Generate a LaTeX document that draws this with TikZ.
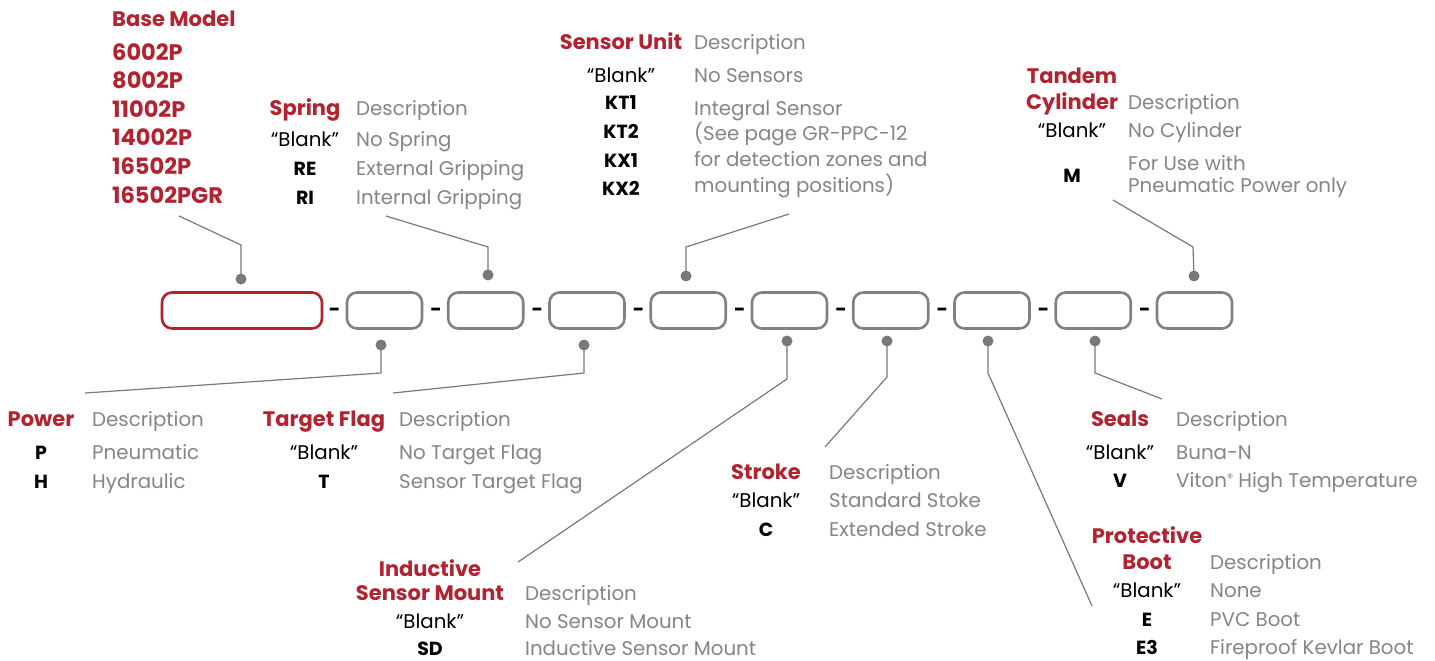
\documentclass[tikz,border=0pt]{standalone}
\usepackage{fontspec}
\setmainfont{Poppins}
\definecolor{brand}{RGB}{178,34,48}
\definecolor{desc}{RGB}{132,132,137}
\definecolor{leadc}{RGB}{120,120,126}
\definecolor{boxc}{RGB}{128,128,133}
\newcommand{\fsz}{\fontsize{19.8}{22}\selectfont}
\newcommand{\hsz}{\fontsize{21}{24}\selectfont}
\newcommand{\nsz}{\fontsize{22.5}{24}\selectfont}
\newcommand{\csz}{\fontsize{19}{22}\selectfont}
\begin{document}
\begin{tikzpicture}[x=1pt,y=-1pt,
  hd/.style={font=\hsz\bfseries, text=brand, anchor=base, inner sep=0pt},
  hdl/.style={hd, anchor=base west},
  num/.style={hdl, font=\nsz\bfseries},
  cd/.style={font=\csz\bfseries, text=black, anchor=base, inner sep=0pt},
  bl/.style={font=\fsz, text=black, anchor=base, inner sep=0pt},
  ds/.style={font=\fsz, text=desc, anchor=base west, inner sep=0pt},
  slot/.style={draw=boxc, line width=2.6pt, rounded corners=10pt, minimum width=75pt, minimum height=36pt, inner sep=0pt},
  bigslot/.style={slot, draw=brand, minimum width=160pt},
  sep/.style={font=\fsz\bfseries, text=black, inner sep=0pt},
  pin/.style={circle, fill=leadc, minimum size=11pt, inner sep=0pt},
  lead/.style={draw=leadc, line width=1.2pt}
]
\useasboundingbox (0,0) rectangle (1435,661);

% ---------- slots ----------
\node[bigslot] (b1) at (242,310.5) {};
\foreach \i/\x in {2/384.5,3/485.75,4/587,5/688.25,6/789.5,7/890.75,8/992,9/1093.25,10/1194.5}
  \node[slot] (b\i) at (\x,310.5) {};
\foreach \x [count=\k] in {334.5,436,537.25,638.5,739.75,841,942.25,1043.5,1144.75}
  \node[sep] (s\k) at (\x,312) {-};

% ---------- pins ----------
\node[pin] (p1) at (241,279) {};
\node[pin] (p3) at (488,275) {};
\node[pin] (p5) at (686,276) {};
\node[pin] (p10) at (1194,276) {};
\node[pin] (p2) at (381,345) {};
\node[pin] (p4) at (584,345) {};
\node[pin] (p6) at (787,341) {};
\node[pin] (p7) at (887,341) {};
\node[pin] (p8) at (988,341) {};
\node[pin] (p9) at (1095,341) {};

% ---------- leader corners & ends ----------
\coordinate (k1) at (241,245); \coordinate (e1) at (179,216);
\coordinate (k3) at (488,247); \coordinate (e3) at (386,216);
\coordinate (k5) at (686,247); \coordinate (e5) at (789,214);
\coordinate (k10) at (1193,247); \coordinate (e10) at (1113,200);
\coordinate (k2) at (381,373); \coordinate (e2) at (85,393);
\coordinate (k4) at (584,373); \coordinate (e4) at (393,393);
\coordinate (k6) at (787,379); \coordinate (e6) at (518,562);
\coordinate (k7) at (887,377); \coordinate (e7) at (825,447);
\coordinate (k8) at (988,373); \coordinate (e8) at (1092,606);
\coordinate (k9) at (1095,373); \coordinate (e9) at (1162,399);

\foreach \i in {1,3,5,10,2,4,6,7,8,9}
  \draw[lead] (p\i.center) -- (k\i) -- (e\i);

% ---------- Base Model ----------
\node[hdl] (bm) at (112,27) {Base Model};
\node[num] (bm1) at (112,60) {6002P};
\node[num] (bm2) at (112,88.5) {8002P};
\node[num] (bm3) at (112,117) {11002P};
\node[num] (bm4) at (112,145.5) {14002P};
\node[num] (bm5) at (112,174) {16502P};
\node[num] (bm6) at (112,203) {16502PGR};

% ---------- Spring ----------
\node[hd] (sp) at (305,115) {Spring};
\node[ds] (spd) at (356,115) {Description};
\node[bl] (sp1) at (305,146) {“Blank”};
\node[ds] (sp1d) at (356,146) {No Spring};
\node[cd] (sp2) at (305,175) {RE};
\node[ds] (sp2d) at (356,175) {External Gripping};
\node[cd] (sp3) at (305,204) {RI};
\node[ds] (sp3d) at (356,204) {Internal Gripping};

% ---------- Sensor Unit ----------
\node[hd] (su) at (621,49) {Sensor Unit};
\node[ds] (sud) at (694,49) {Description};
\node[bl] (su1) at (621,82) {“Blank”};
\node[ds] (su1d) at (694,82) {No Sensors};
\node[cd] (su2) at (621,110) {KT1};
\node[cd] (su3) at (621,138.5) {KT2};
\node[cd] (su4) at (621,167) {KX1};
\node[cd] (su5) at (621,195.5) {KX2};
\node[ds] (su2d) at (694,115) {Integral Sensor};
\node[ds] (su3d) at (694,140) {(See page GR-PPC-12};
\node[ds] (su4d) at (694,166) {for detection zones and};
\node[ds] (su5d) at (694,192) {mounting positions)};

% ---------- Tandem Cylinder ----------
\node[hd] (tc) at (1072,83) {Tandem};
\node[hd] (tc2) at (1072,109) {Cylinder};
\node[ds] (tcd) at (1128,109) {Description};
\node[bl] (tc1) at (1072,137) {“Blank”};
\node[ds] (tc1d) at (1128,137) {No Cylinder};
\node[cd] (tcm) at (1072,182) {M};
\node[ds] (tcmd) at (1128,170) {For Use with};
\node[ds] (tcmd2) at (1128,192) {Pneumatic Power only};

% ---------- Power ----------
\node[hd] (pw) at (41,426) {Power};
\node[ds] (pwd) at (92,426) {Description};
\node[cd] (pw1) at (41,459) {P};
\node[ds] (pw1d) at (92,459) {Pneumatic};
\node[cd] (pw2) at (41,488) {H};
\node[ds] (pw2d) at (92,488) {Hydraulic};

% ---------- Target Flag ----------
\node[hd] (tf) at (324,426) {Target Flag};
\node[ds] (tfd) at (399,426) {Description};
\node[bl] (tf1) at (324,459) {“Blank”};
\node[ds] (tf1d) at (399,459) {No Target Flag};
\node[cd] (tf2) at (324,488) {T};
\node[ds] (tf2d) at (399,488) {Sensor Target Flag};

% ---------- Inductive Sensor Mount ----------
\node[hd] (im) at (430,576) {Inductive};
\node[hd] (im2) at (430,600) {Sensor Mount};
\node[ds] (imd) at (525,600) {Description};
\node[bl] (im3) at (430,628) {“Blank”};
\node[ds] (im3d) at (525,628) {No Sensor Mount};
\node[cd] (im4) at (430,655.5) {SD};
\node[ds] (im4d) at (525,655.5) {Inductive Sensor Mount};

% ---------- Stroke ----------
\node[hd] (st) at (766,479) {Stroke};
\node[ds] (std) at (829,479) {Description};
\node[bl] (st1) at (766,507) {“Blank”};
\node[ds] (st1d) at (829,507) {Standard Stoke};
\node[cd] (st2) at (766,536) {C};
\node[ds] (st2d) at (829,536) {Extended Stroke};

% ---------- Seals ----------
\node[hd] (se) at (1120,426) {Seals};
\node[ds] (sed) at (1176,426) {Description};
\node[bl] (se1) at (1120,459) {“Blank”};
\node[ds] (se1d) at (1176,459) {Buna-N};
\node[cd] (se2) at (1120,487) {V};
\node[ds] (se2d) at (1176,487) {Viton{\fontsize{12}{12}\selectfont\raisebox{5pt}{®}} High Temperature};

% ---------- Protective Boot ----------
\node[hd] (pb) at (1147,543) {Protective};
\node[hd] (pb2) at (1147,569) {Boot};
\node[ds] (pbd) at (1210,569) {Description};
\node[bl] (pb1) at (1147,597) {“Blank”};
\node[ds] (pb1d) at (1210,597) {None};
\node[cd] (pb2c) at (1147,626) {E};
\node[ds] (pb2d) at (1210,626) {PVC Boot};
\node[cd] (pb3) at (1147,654) {E3};
\node[ds] (pb3d) at (1210,654) {Fireproof Kevlar Boot};
\end{tikzpicture}
\end{document}
